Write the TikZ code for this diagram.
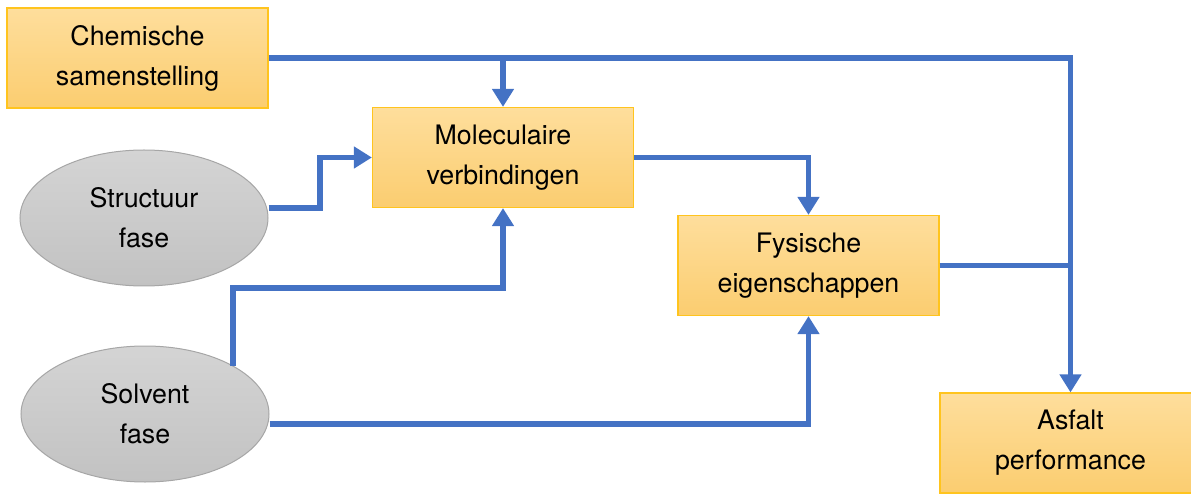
\documentclass[tikz,border=0pt]{standalone}
\usepackage{fontspec}
\setmainfont{TeX Gyre Heros}
\usetikzlibrary{arrows,arrows.meta,shapes}
\definecolor{linkblue}{RGB}{68,114,196}
\definecolor{boxtop}{RGB}{254,222,156}
\definecolor{boxbottom}{RGB}{251,205,112}
\definecolor{boxline}{RGB}{255,196,30}
\definecolor{phasetop}{RGB}{212,212,212}
\definecolor{phasebottom}{RGB}{194,194,194}
\tikzstyle{factor}=[rectangle,draw=boxline,line width=1.2pt,top color=boxtop,bottom color=boxbottom,minimum width=261pt,minimum height=100pt,align=center,font=\fontsize{26.8}{40}\selectfont]
\tikzstyle{phase}=[ellipse,draw=black!35,line width=1pt,top color=phasetop,bottom color=phasebottom,minimum width=248pt,minimum height=136pt,align=center,font=\fontsize{26.8}{40}\selectfont]
\tikzstyle{edge} = [draw,linkblue,line width=5.5pt,-{Triangle[length=18pt,width=21pt]}]
\tikzstyle{link} = [draw,linkblue,line width=5.5pt]

\begin{document}
\begin{tikzpicture}[x=1pt,y=-1pt]
    \useasboundingbox (0,0) rectangle (1191,494);
    % First we draw the boxes and the phases
    \node[factor] (chem) at (137.5,58) {Chemische\\samenstelling};
    \node[factor] (mol) at (503,157.5) {Moleculaire\\verbindingen};
    \node[factor] (fys) at (808.5,265.5) {Fysische\\eigenschappen};
    \node[factor] (asfalt) at (1070.5,443) {Asfalt\\performance};
    \node[phase] (structuur) at (144,218) {Structuur\\fase};
    \node[phase] (solvent) at (145,414) {Solvent\\fase};
    % Connect them with the blue lines
    \path[edge] (chem.east) -| (asfalt.north);
    \path[edge] (chem.east -| mol.north) -- (mol.north);
    \path[edge] ([yshift=10pt]structuur.east) -| ([xshift=-52pt]mol.west) -- (mol.west);
    \path[edge] (solvent.north east) |- ([yshift=-80pt]mol.south) -- (mol.south);
    \path[edge] ([yshift=-10pt]solvent.east) -| (fys.south);
    \path[edge] (mol.east) -| (fys.north);
    \path[link] (fys.east) -- (fys.east -| asfalt.north);
\end{tikzpicture}
\end{document}
